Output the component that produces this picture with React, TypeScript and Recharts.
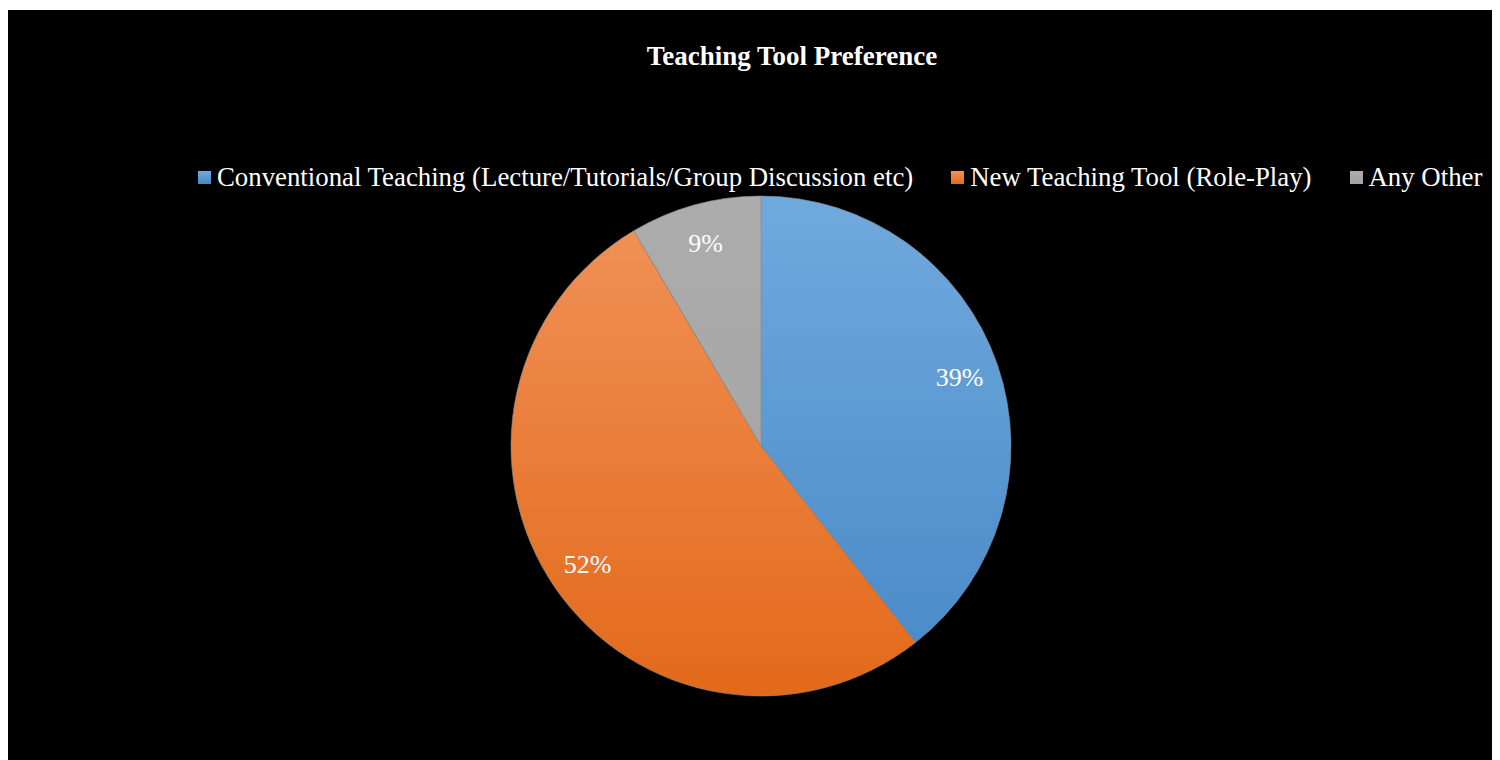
import { PieChart, Pie, Cell, Legend } from 'recharts';

const categories = [
  'Conventional Teaching (Lecture/Tutorials/Group Discussion etc)',
  'New Teaching Tool (Role-Play)',
  'Any Other',
];
const shares = [39.4, 52.1, 8.5];
const shareLabels = ['39%', '52%', '9%'];
const topColors = ['#70a9dd', '#f1935a', '#acacac'];
const bottomColors = ['#4788c7', '#e3691a', '#a3a3a3'];

const data = categories.map((name, i) => ({ name, value: shares[i], label: shareLabels[i] }));

const RADIAN = Math.PI / 180;
const FONT = '"Liberation Serif", "Times New Roman", serif';

const renderLabel = ({ cx, cy, midAngle, outerRadius, index }: any) => {
  const r = outerRadius * 0.84;
  const x = cx + r * Math.cos(-midAngle * RADIAN);
  const y = cy + r * Math.sin(-midAngle * RADIAN);
  return (
    <text x={x} y={y} fill="#ffffff" textAnchor="middle" dominantBaseline="central"
      style={{ fontFamily: FONT, fontSize: 26 }}>
      {shareLabels[index]}
    </text>
  );
};

const LegendContent = () => (
  <div style={{ display: 'flex', alignItems: 'center', fontFamily: FONT, fontSize: 26.8, color: '#ffffff', lineHeight: '30px' }}>
    {categories.map((name, i) => (
      <div key={name} style={{ display: 'flex', alignItems: 'center', marginRight: i < categories.length - 1 ? 38 : 0 }}>
        <span style={{
          width: 13, height: 13, marginRight: 6, display: 'inline-block',
          background: `linear-gradient(${topColors[i]}, ${bottomColors[i]})`,
        }} />
        <span style={{ whiteSpace: 'nowrap' }}>{name}</span>
      </div>
    ))}
  </div>
);

export default function App() {
  const width = 1492;
  const height = 750;
  const cx = 753;
  const cy = 436;
  const radius = 250;

  return (
    <div style={{ paddingTop: 2 }}>
      <div style={{ position: 'relative', width, height, background: '#000000' }}>
        <div style={{
          position: 'absolute', left: 784, top: 31, transform: 'translateX(-50%)',
          fontFamily: FONT, fontSize: 27, fontWeight: 'bold', color: '#ffffff',
          lineHeight: '30px', whiteSpace: 'nowrap',
        }}>
          Teaching Tool Preference
        </div>
        <PieChart width={width} height={height} margin={{ top: 0, right: 0, bottom: 0, left: 0 }}>
          <defs>
            {categories.map((_, i) => (
              <linearGradient key={i} id={`slice-grad-${i}`} gradientUnits="userSpaceOnUse"
                x1={0} y1={cy - radius} x2={0} y2={cy + radius}>
                <stop offset="0%" stopColor={topColors[i]} />
                <stop offset="100%" stopColor={bottomColors[i]} />
              </linearGradient>
            ))}
          </defs>
          <Legend
            content={<LegendContent />}
            wrapperStyle={{ position: 'absolute', top: 152, left: 190, width: 'auto' }}
          />
          <Pie
            data={data}
            dataKey="value"
            nameKey="name"
            cx={cx}
            cy={cy}
            outerRadius={radius}
            startAngle={90}
            endAngle={-270}
            stroke="#8c8c8c"
            strokeWidth={0.6}
            label={renderLabel}
            labelLine={false}
            isAnimationActive={false}
          >
            {data.map((_, i) => (
              <Cell key={i} fill={`url(#slice-grad-${i})`} />
            ))}
          </Pie>
        </PieChart>
      </div>
    </div>
  );
}
